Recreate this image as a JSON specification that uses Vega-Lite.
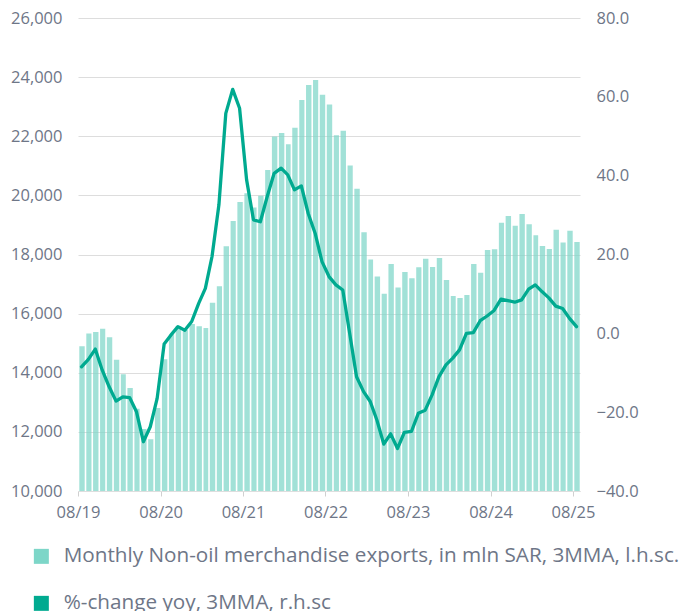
{
  "$schema": "https://vega.github.io/schema/vega-lite/v6.json",
  "width": 502,
  "height": 473,
  "autosize": {"type": "none"},
  "padding": {"left": 78, "top": 18, "right": 101, "bottom": 120},
  "background": "white",
  "config": {
    "view": {"stroke": null},
    "font": "Open Sans",
    "axis": {"labelFont": "Open Sans", "labelColor": "#6e7687", "labelFontSize": 16.5}
  },
  "data": {
    "values": [
      {"month": "2019-08-01", "exports": 14900, "yoy": -8.5},
      {"month": "2019-09-01", "exports": 15330, "yoy": -6.6},
      {"month": "2019-10-01", "exports": 15380, "yoy": -4.0},
      {"month": "2019-11-01", "exports": 15490, "yoy": -9.3},
      {"month": "2019-12-01", "exports": 15200, "yoy": -13.5},
      {"month": "2020-01-01", "exports": 14440, "yoy": -17.2},
      {"month": "2020-02-01", "exports": 13950, "yoy": -16.1},
      {"month": "2020-03-01", "exports": 13480, "yoy": -16.3},
      {"month": "2020-04-01", "exports": 12780, "yoy": -19.9},
      {"month": "2020-05-01", "exports": 12100, "yoy": -27.5},
      {"month": "2020-06-01", "exports": 11750, "yoy": -23.7},
      {"month": "2020-07-01", "exports": 12810, "yoy": -16.5},
      {"month": "2020-08-01", "exports": 14460, "yoy": -2.7},
      {"month": "2020-09-01", "exports": 15300, "yoy": -0.4},
      {"month": "2020-10-01", "exports": 15580, "yoy": 1.7},
      {"month": "2020-11-01", "exports": 15450, "yoy": 0.8},
      {"month": "2020-12-01", "exports": 15650, "yoy": 3.0},
      {"month": "2021-01-01", "exports": 15570, "yoy": 7.6},
      {"month": "2021-02-01", "exports": 15510, "yoy": 11.4},
      {"month": "2021-03-01", "exports": 16370, "yoy": 19.5},
      {"month": "2021-04-01", "exports": 16930, "yoy": 32.6},
      {"month": "2021-05-01", "exports": 18280, "yoy": 55.8},
      {"month": "2021-06-01", "exports": 19130, "yoy": 61.9},
      {"month": "2021-07-01", "exports": 19780, "yoy": 57.1},
      {"month": "2021-08-01", "exports": 20070, "yoy": 39.0},
      {"month": "2021-09-01", "exports": 19590, "yoy": 28.8},
      {"month": "2021-10-01", "exports": 19990, "yoy": 28.3},
      {"month": "2021-11-01", "exports": 20860, "yoy": 34.7},
      {"month": "2021-12-01", "exports": 21990, "yoy": 40.6},
      {"month": "2022-01-01", "exports": 22110, "yoy": 41.9},
      {"month": "2022-02-01", "exports": 21730, "yoy": 40.2},
      {"month": "2022-03-01", "exports": 22290, "yoy": 36.4},
      {"month": "2022-04-01", "exports": 23230, "yoy": 37.4},
      {"month": "2022-05-01", "exports": 23730, "yoy": 30.4},
      {"month": "2022-06-01", "exports": 23900, "yoy": 25.4},
      {"month": "2022-07-01", "exports": 23400, "yoy": 18.2},
      {"month": "2022-08-01", "exports": 23070, "yoy": 14.4},
      {"month": "2022-09-01", "exports": 22030, "yoy": 12.3},
      {"month": "2022-10-01", "exports": 22190, "yoy": 11.0},
      {"month": "2022-11-01", "exports": 21010, "yoy": 0.0},
      {"month": "2022-12-01", "exports": 20220, "yoy": -11.0},
      {"month": "2023-01-01", "exports": 18750, "yoy": -14.8},
      {"month": "2023-02-01", "exports": 17830, "yoy": -17.3},
      {"month": "2023-03-01", "exports": 17260, "yoy": -22.0},
      {"month": "2023-04-01", "exports": 16670, "yoy": -28.1},
      {"month": "2023-05-01", "exports": 17680, "yoy": -25.5},
      {"month": "2023-06-01", "exports": 16880, "yoy": -29.2},
      {"month": "2023-07-01", "exports": 17410, "yoy": -25.1},
      {"month": "2023-08-01", "exports": 17200, "yoy": -24.9},
      {"month": "2023-09-01", "exports": 17570, "yoy": -20.3},
      {"month": "2023-10-01", "exports": 17860, "yoy": -19.5},
      {"month": "2023-11-01", "exports": 17580, "yoy": -15.6},
      {"month": "2023-12-01", "exports": 17880, "yoy": -11.0},
      {"month": "2024-01-01", "exports": 17140, "yoy": -8.0},
      {"month": "2024-02-01", "exports": 16600, "yoy": -6.3},
      {"month": "2024-03-01", "exports": 16530, "yoy": -4.2},
      {"month": "2024-04-01", "exports": 16630, "yoy": 0.0},
      {"month": "2024-05-01", "exports": 17680, "yoy": 0.2},
      {"month": "2024-06-01", "exports": 17380, "yoy": 3.2},
      {"month": "2024-07-01", "exports": 18150, "yoy": 4.4},
      {"month": "2024-08-01", "exports": 18180, "yoy": 5.8},
      {"month": "2024-09-01", "exports": 19070, "yoy": 8.7},
      {"month": "2024-10-01", "exports": 19300, "yoy": 8.3},
      {"month": "2024-11-01", "exports": 18970, "yoy": 7.9},
      {"month": "2024-12-01", "exports": 19370, "yoy": 8.5},
      {"month": "2025-01-01", "exports": 19020, "yoy": 11.2},
      {"month": "2025-02-01", "exports": 18650, "yoy": 12.3},
      {"month": "2025-03-01", "exports": 18290, "yoy": 10.6},
      {"month": "2025-04-01", "exports": 18190, "yoy": 9.0},
      {"month": "2025-05-01", "exports": 18840, "yoy": 6.9},
      {"month": "2025-06-01", "exports": 18410, "yoy": 6.3},
      {"month": "2025-07-01", "exports": 18800, "yoy": 3.8},
      {"month": "2025-08-01", "exports": 18420, "yoy": 1.7}
    ]
  },
  "encoding": {
    "x": {
      "field": "month",
      "timeUnit": "utcyearmonth",
      "type": "temporal",
      "title": null,
      "scale": {
        "domain": [
          {"year": 2019, "month": 8, "date": 1, "utc": true},
          {"year": 2025, "month": 9, "date": 1, "utc": true}
        ]
      },
      "axis": {
        "values": [
          {"year": 2019, "month": 8, "date": 1, "utc": true},
          {"year": 2020, "month": 8, "date": 1, "utc": true},
          {"year": 2021, "month": 8, "date": 1, "utc": true},
          {"year": 2022, "month": 8, "date": 1, "utc": true},
          {"year": 2023, "month": 8, "date": 1, "utc": true},
          {"year": 2024, "month": 8, "date": 1, "utc": true},
          {"year": 2025, "month": 8, "date": 1, "utc": true}
        ],
        "format": "%m/%y",
        "grid": false,
        "labelFlush": false,
        "labelOverlap": false,
        "domainColor": "#dedede",
        "tickColor": "#d0d0d0",
        "tickSize": 5,
        "labelPadding": 8
      }
    }
  },
  "layer": [
    {
      "mark": {"type": "bar", "opacity": 0.72, "binSpacing": 1.6, "clip": true},
      "encoding": {
        "y": {
          "field": "exports",
          "type": "quantitative",
          "title": null,
          "scale": {"domain": [10000, 26000], "nice": false, "zero": false},
          "axis": {
            "values": [10000, 12000, 14000, 16000, 18000, 20000, 22000, 24000, 26000],
            "format": ",.0f",
            "ticks": false,
            "domain": false,
            "grid": true,
            "gridColor": "#dddddd",
            "labelPadding": 16
          }
        },
        "color": {
          "datum": "Monthly Non-oil merchandise exports, in mln SAR, 3MMA, l.h.sc.",
          "scale": {
            "domain": [
              "Monthly Non-oil merchandise exports, in mln SAR, 3MMA, l.h.sc.",
              " %-change yoy, 3MMA, r.h.sc"
            ],
            "range": ["#7dd6c8", "#00aa90"]
          },
          "legend": {
            "title": null,
            "orient": "none",
            "legendX": -47,
            "legendY": 528,
            "direction": "vertical",
            "symbolType": "square",
            "symbolSize": 225,
            "symbolOpacity": 1,
            "symbolStrokeWidth": 0,
            "labelFont": "Open Sans",
            "labelFontSize": 20.7,
            "labelColor": "#6e7687",
            "labelOffset": 12,
            "labelLimit": 0,
            "rowPadding": 25
          }
        }
      }
    },
    {
      "mark": {"type": "line", "strokeWidth": 3.3, "strokeJoin": "round", "strokeCap": "round"},
      "encoding": {
        "x": {"field": "month", "timeUnit": "utcyearmonth", "type": "temporal", "bandPosition": 0.5},
        "y": {
          "field": "yoy",
          "type": "quantitative",
          "title": null,
          "scale": {"domain": [-40, 80], "nice": false, "zero": false},
          "axis": {
            "orient": "right",
            "values": [-40, -20, 0, 20, 40, 60, 80],
            "format": ".1f",
            "ticks": false,
            "domain": false,
            "grid": false,
            "labelPadding": 16
          }
        },
        "color": {"datum": " %-change yoy, 3MMA, r.h.sc", "legend": null}
      }
    }
  ],
  "resolve": {"scale": {"y": "independent"}}
}
